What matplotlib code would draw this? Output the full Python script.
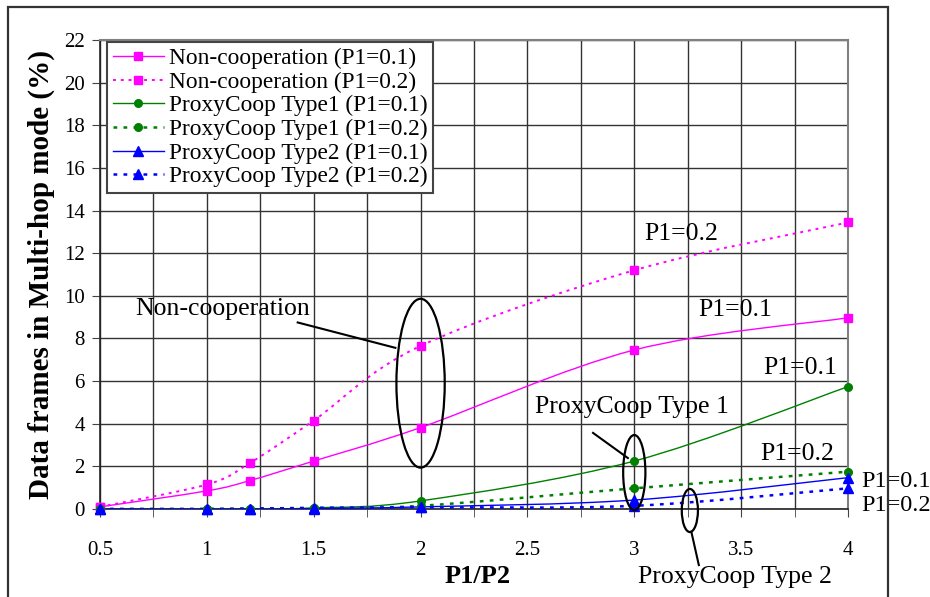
import numpy as np
import matplotlib
matplotlib.use("Agg")
import matplotlib.pyplot as plt
from matplotlib.path import Path
from matplotlib.patches import PathPatch, Ellipse, Rectangle
from matplotlib.lines import Line2D

plt.rcParams['font.family'] = ['Liberation Serif', 'DejaVu Serif']

# data
ratio = [0.5, 1, 1.2, 1.5, 2, 3, 4]
noncoop_01 = [0.1, 0.85, 1.33, 2.25, 3.82, 7.46, 8.97]
noncoop_02 = [0.1, 1.15, 2.15, 4.15, 7.65, 11.2, 13.44]
type1_01 = [0.0, 0.0, 0.0, 0.05, 0.38, 2.25, 5.74]
type1_02 = [0.0, 0.0, 0.02, 0.05, 0.15, 0.97, 1.75]
type2_01 = [0.0, 0.0, 0.0, 0.02, 0.1, 0.42, 1.47]
type2_02 = [0.0, 0.0, 0.02, 0.05, 0.08, 0.15, 0.97]

labels = ["Non-cooperation (P1=0.1)", "Non-cooperation (P1=0.2)",
          "ProxyCoop Type1 (P1=0.1)", "ProxyCoop Type1 (P1=0.2)",
          "ProxyCoop Type2 (P1=0.1)", "ProxyCoop Type2 (P1=0.2)"]
series = [noncoop_01, noncoop_02, type1_01, type1_02, type2_01, type2_02]
colors = ["#FF00FF", "#FF00FF", "#008000", "#008000", "#0000FF", "#0000FF"]
markers = ["s", "s", "o", "o", "^", "^"]
msizes = [6, 6, 5.5, 5.5, 6.5, 6.5]
dot = (0, (1.5, 2.5))
styles = ["-", dot, "-", dot, "-", dot]
widths = [1.0, 1.4, 1.0, 1.8, 1.0, 1.8]


def smooth_path(xs, ys):
    # excel style smoothed line: bezier through the points
    p = np.column_stack([xs, ys]).astype(float)
    n = len(p)
    verts = [p[0]]
    codes = [Path.MOVETO]
    for i in range(n - 1):
        p0 = p[i - 1] if i > 0 else p[i]
        p3 = p[i + 2] if i + 2 < n else p[i + 1]
        c1 = p[i] + (p[i + 1] - p0) / 6.0
        c2 = p[i + 1] - (p3 - p[i]) / 6.0
        verts += [c1, c2, p[i + 1]]
        codes += [Path.CURVE4] * 3
    return Path(verts, codes)


fig = plt.figure(figsize=(9.3, 5.97), dpi=100)
ax = fig.add_axes([100 / 930, 88 / 597, 748 / 930, 469 / 597])

for ys, c, m, ms, ls, lw in zip(series, colors, markers, msizes, styles, widths):
    patch = PathPatch(smooth_path(ratio, ys), fill=False, edgecolor=c,
                      linestyle=ls, linewidth=lw, zorder=3)
    ax.add_patch(patch)
    ax.plot(ratio, ys, linestyle="none", marker=m, markersize=ms, color=c,
            zorder=4, clip_on=False)

ax.set_xlim(0.5, 4)
ax.set_ylim(0, 22)
ax.set_xticks(np.arange(0.5, 4.01, 0.5))
ax.set_xticks(np.arange(0.5, 4.01, 0.25), minor=True)
ax.set_xticklabels(["0.5", "1", "1.5", "2", "2.5", "3", "3.5", "4"])
ax.set_yticks(np.arange(0, 22.1, 2))
ax.grid(True, which="both", axis="x", color="#333333", linewidth=1)
ax.grid(True, which="major", axis="y", color="#333333", linewidth=1)
ax.set_axisbelow(True)
ax.tick_params(axis="both", which="both", labelsize=15, direction="out",
               color="#444444")
ax.tick_params(axis="x", which="both", length=6, pad=17)
ax.tick_params(axis="y", length=6, pad=5)
for s in ["top", "right"]:
    ax.spines[s].set_color("#808080")
    ax.spines[s].set_linewidth(1.5)
for s in ["left", "bottom"]:
    ax.spines[s].set_color("#222222")
    ax.spines[s].set_linewidth(1.2)

ax.set_xlabel("P1/P2", fontsize=19, fontweight="bold")
ax.set_ylabel("Data frames in Multi-hop mode (%)", fontsize=21, fontweight="bold")
ax.xaxis.set_label_coords(0.505, -0.119)
ax.yaxis.set_label_coords(-0.060, 0.5)

handles = [Line2D([], [], color=c, linestyle=ls, linewidth=lw, marker=m,
                  markersize=ms)
           for c, m, ms, ls, lw in zip(colors, markers, msizes, styles, widths)]
leg = ax.legend(handles, labels, loc="upper left", bbox_to_anchor=(0.009, 0.996),
                borderaxespad=0, fontsize=16.8, frameon=True, fancybox=False,
                edgecolor="#444444", framealpha=1, handlelength=2.2,
                handletextpad=0.2, labelspacing=0.1, borderpad=0.25)
leg.get_frame().set_linewidth(1.5)

# annotations
tkw = dict(fontsize=18.5, ha="center", va="baseline", clip_on=False, zorder=6)
ax.text(1.075, 9.11, "Non-cooperation", **tkw)
ax.text(3.22, 12.6, "P1=0.2", **tkw)
ax.text(3.474, 9.03, "P1=0.1", **tkw)
ax.text(3.778, 6.32, "P1=0.1", **tkw)
ax.text(3.762, 2.30, "P1=0.2", **tkw)
ax.text(2.99, 4.49, "ProxyCoop Type 1", **tkw)
ax.text(3.47, -3.47, "ProxyCoop Type 2", **tkw)
rkw = dict(fontsize=17.5, ha="left", va="baseline", clip_on=False, zorder=6)
ax.text(4.062, 1.05, "P1=0.1", **rkw)
ax.text(4.062, -0.09, "P1=0.2", **rkw)

ekw = dict(fill=False, edgecolor="black", linewidth=1.6, zorder=5, clip_on=False)
ax.add_patch(Ellipse((2.0, 5.9), 0.226, 7.92, **ekw))
ax.add_patch(Ellipse((3.0, 1.71), 0.104, 3.52, **ekw))
ax.add_patch(Ellipse((3.26, -0.07), 0.0755, 2.02, **ekw))
lkw = dict(color="black", linewidth=1.5, zorder=5, clip_on=False)
ax.plot([1.425, 1.882], [8.75, 7.56], **lkw)
ax.plot([2.807, 2.97], [3.57, 2.39], **lkw)
ax.plot([3.267, 3.302], [-1.07, -2.63], **lkw)

# outer chart frame
fig.patches.append(Rectangle((8 / 930, -0.1), 880 / 930, 1.1 - 7 / 597,
                             transform=fig.transFigure, fill=False,
                             edgecolor="#333333", linewidth=1.6, zorder=0))

fig.savefig("out.png", dpi=100)
